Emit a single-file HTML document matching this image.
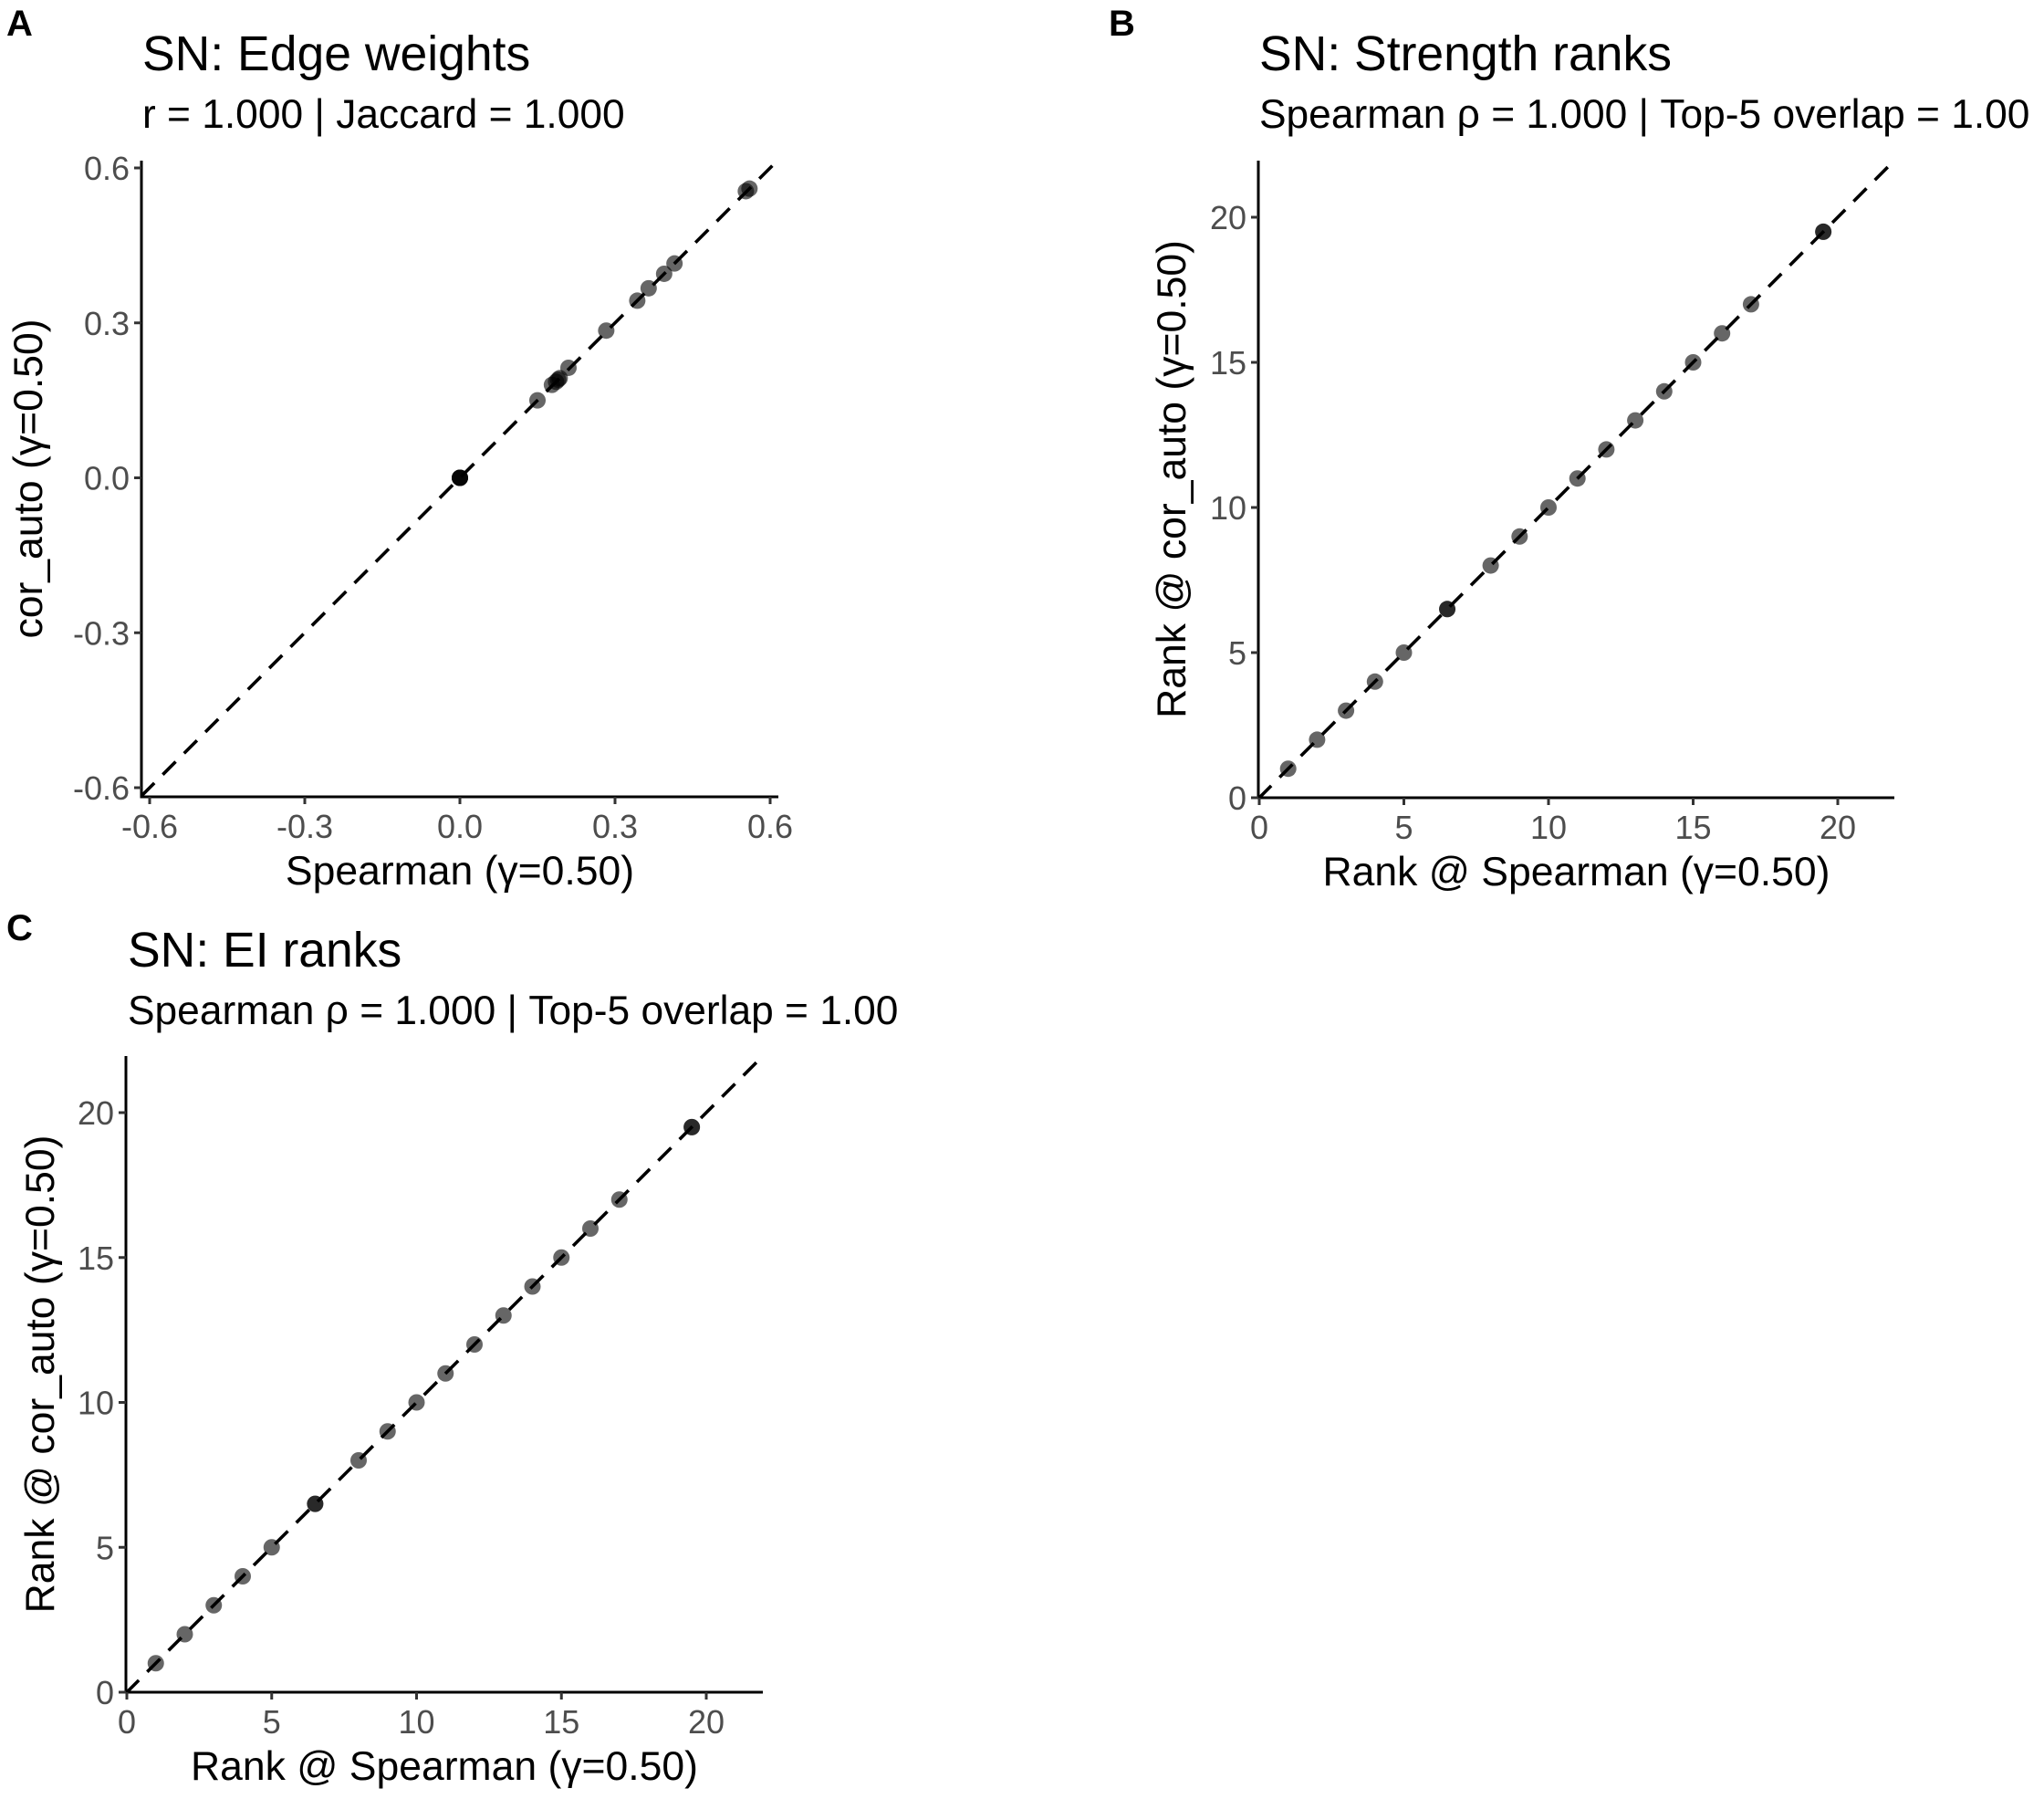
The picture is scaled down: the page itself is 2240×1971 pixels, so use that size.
<!DOCTYPE html>
<html><head><meta charset="utf-8"><style>
html,body{margin:0;padding:0;background:#fff}
svg{display:block;font-family:"Liberation Sans",sans-serif}
</style></head><body>
<svg id="fig" width="2240" height="1971" viewBox="0 0 2240 1971" xmlns="http://www.w3.org/2000/svg"></svg>
<script>
// Panel A data
const edgeX = [0,0,0,0,0.15,0.178,0.186,0.19,0.193,0.21,0.283,0.343,0.365,0.395,0.415,0.553,0.56];
const edgeY = [0,0,0,0,0.15,0.18,0.186,0.19,0.193,0.213,0.285,0.343,0.367,0.395,0.415,0.555,0.56];
const edgeTicks = [-0.6,-0.3,0,0.3,0.6];
const edgeTickLabels = ["-0.6","-0.3","0.0","0.3","0.6"];
// Panel B data
const strengthX = [1,2,3,4,5,6.5,6.5,8,9,10,11,12,13,14,15,16,17,19.5,19.5];
const strengthY = [1,2,3,4,5,6.5,6.5,8,9,10,11,12,13,14,15,16,17,19.5,19.5];
// Panel C data
const eiX = [1,2,3,4,5,6.5,6.5,8,9,10,11,12,13,14,15,16,17,19.5,19.5];
const eiY = [1,2,3,4,5,6.5,6.5,8,9,10,11,12,13,14,15,16,17,19.5,19.5];
const rankTicks = [0,5,10,15,20];
const rankTickLabels = ["0","5","10","15","20"];

const NS = "http://www.w3.org/2000/svg";
const svg = document.getElementById('fig');
function mk(tag, attrs, parent, text){
  const e = document.createElementNS(NS, tag);
  for (const k in attrs) e.setAttribute(k, attrs[k]);
  if (text !== undefined) e.textContent = text;
  (parent||svg).appendChild(e);
  return e;
}

function panel(o){
  const g = mk('g', {});
  
  
  const sx = v => o.px0 + (v - o.t0) / (o.t1 - o.t0) * (o.px1 - o.px0);
  const sy = v => o.py0 + (v - o.t0) / (o.t1 - o.t0) * (o.py1 - o.py0);
  const L = mk('text', {x:o.letterX, y:o.letterY, 'font-size':40, 'font-weight':'bold', fill:'#000'}, g, o.letter);
  
  
  const T = mk('text', {x:o.titleX, y:o.titleY, 'font-size':53.5, fill:'#000'}, g, o.title);
  
  
  const S = mk('text', {x:o.titleX, y:o.titleY+63, 'font-size':44.3, fill:'#000'}, g, o.subtitle);
  
  
  const cid = 'clip' + o.letter;
  const cp = mk('clipPath', {id:cid}, g);
  mk('rect', {x:o.axX, y:o.axTop, width:o.axRight-o.axX, height:o.axY-o.axTop}, cp);
  const xmin = o.t0 + (o.axX - o.px0) / (o.px1 - o.px0) * (o.t1 - o.t0);
  const xmax = o.t0 + (o.axRight - o.px0) / (o.px1 - o.px0) * (o.t1 - o.t0);
  const D = mk('line', {x1:sx(xmin), y1:sy(xmin), x2:sx(xmax), y2:sy(xmax), stroke:'#000', 'stroke-width':3.6, 'stroke-dasharray':'20 13', 'clip-path':'url(#'+cid+')'}, g);
  
  
  for (let i = 0; i < o.xs.length; i++){
    const c = mk('circle', {cx:sx(o.xs[i]), cy:sy(o.ys[i]), r:9, fill:'#000', 'fill-opacity':0.6}, g);
    
    
  }
  const ya = mk('line', {x1:o.axX, y1:o.axTop, x2:o.axX, y2:o.axY+1.5, stroke:'#000', 'stroke-width':3}, g);
  
  
  const xa = mk('line', {x1:o.axX-1.5, y1:o.axY, x2:o.axRight, y2:o.axY, stroke:'#000', 'stroke-width':3}, g);
  
  
  for (let i = 0; i < o.ticks.length; i++){
    const v = o.ticks[i];
    mk('line', {x1:sx(v), y1:o.axY, x2:sx(v), y2:o.axY+8, stroke:'#333', 'stroke-width':3}, g);
    const xt = mk('text', {x:sx(v), y:o.axY+45, 'font-size':36, fill:'#4d4d4d', 'text-anchor':'middle'}, g, o.labels[i]);
    
    
    mk('line', {x1:o.axX-8, y1:sy(v), x2:o.axX, y2:sy(v), stroke:'#333', 'stroke-width':3}, g);
    const yt = mk('text', {x:o.axX-13, y:sy(v)+13, 'font-size':36, fill:'#4d4d4d', 'text-anchor':'end'}, g, o.labels[i]);
    
    
  }
  const xtitle = mk('text', {x:(o.axX+o.axRight)/2, y:o.axY+96, 'font-size':44.5, fill:'#000', 'text-anchor':'middle'}, g, o.xlab);
  
  
  const cy = (o.axTop+o.axY)/2;
  const ytitle = mk('text', {x:o.ylabX, y:cy, 'font-size':44.5, fill:'#000', 'text-anchor':'middle', transform:'rotate(-90 '+o.ylabX+' '+cy+')'}, g, o.ylab);
  
  
}

panel({name:'panel-a-edge-weights', letter:'A', letterX:7, letterY:39, title:'SN: Edge weights', subtitle:'r = 1.000 | Jaccard = 1.000',
  titleX:156, titleY:77, xs:edgeX, ys:edgeY, ticks:edgeTicks, labels:edgeTickLabels,
  t0:-0.6, t1:0.6, px0:164, px1:844, py0:863, py1:184, axX:155, axY:873, axTop:176, axRight:853,
  xlab:'Spearman (γ=0.50)', ylab:'cor_auto (γ=0.50)', ylabX:46});

panel({name:'panel-b-strength-ranks', letter:'B', letterX:1215, letterY:39, title:'SN: Strength ranks', subtitle:'Spearman ρ = 1.000 | Top-5 overlap = 1.00',
  titleX:1380, titleY:77, xs:strengthX, ys:strengthY, ticks:rankTicks, labels:rankTickLabels,
  t0:0, t1:20, px0:1380, px1:2014, py0:874, py1:238, axX:1379, axY:874, axTop:176, axRight:2076,
  xlab:'Rank @ Spearman (γ=0.50)', ylab:'Rank @ cor_auto (γ=0.50)', ylabX:1299});

panel({name:'panel-c-ei-ranks', letter:'C', letterX:7, letterY:1030, title:'SN: EI ranks', subtitle:'Spearman ρ = 1.000 | Top-5 overlap = 1.00',
  titleX:140, titleY:1059, xs:eiX, ys:eiY, ticks:rankTicks, labels:rankTickLabels,
  t0:0, t1:20, px0:139, px1:774, py0:1854, py1:1219, axX:138, axY:1854, axTop:1157, axRight:836,
  xlab:'Rank @ Spearman (γ=0.50)', ylab:'Rank @ cor_auto (γ=0.50)', ylabX:59});
</script>
</body></html>
